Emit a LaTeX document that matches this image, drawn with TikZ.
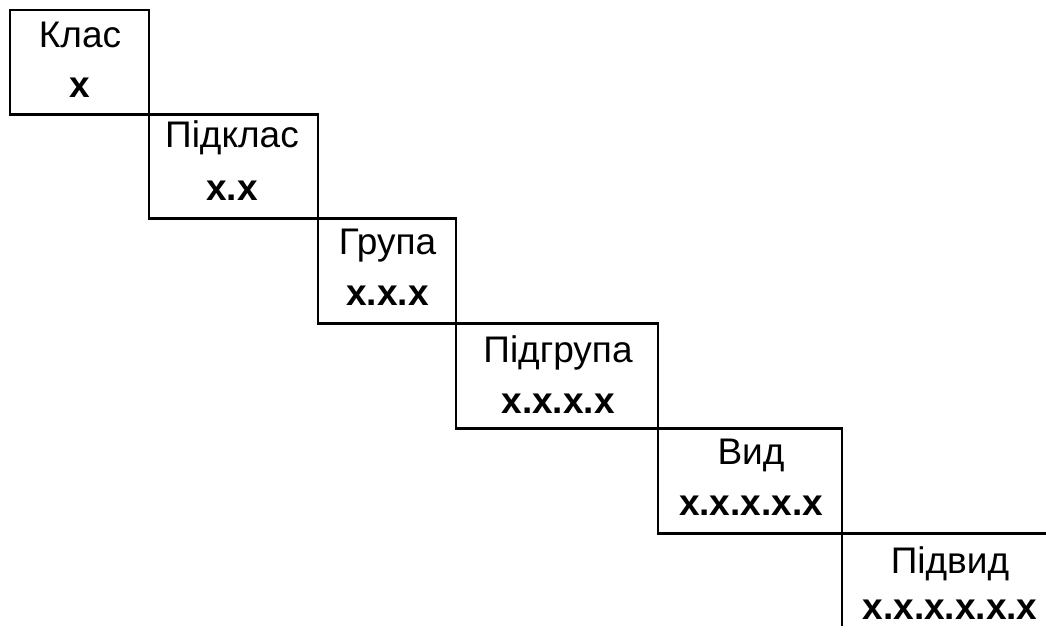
\documentclass[tikz,border=0pt]{standalone}
\usepackage{fontspec}
\setmainfont{Liberation Sans}
\begin{document}
\begin{tikzpicture}[x=1pt,y=-1pt,
  edge/.style={draw=black,line width=2.2pt,line cap=rect},
  titletext/.style={anchor=base,inner sep=0pt,font=\fontsize{37}{44}\selectfont},
  codetext/.style={anchor=base,inner sep=0pt,font=\fontsize{37}{44}\selectfont\bfseries}]
\useasboundingbox (0,0) rectangle (1046,635);
% grid values
\def\XA{10}\def\XB{149}\def\XC{318}\def\XD{456}\def\XE{658}\def\XF{842}\def\XG{1045}
\def\YA{10}\def\YB{114.5}\def\YC{218.5}\def\YD{323.5}\def\YE{428.5}\def\YF{533.5}\def\YG{625}
% horizontal edges
\draw[edge] (\XA,\YA) -- (\XB,\YA);
\draw[edge] (\XA,\YB) -- (\XC,\YB);
\draw[edge] (\XB,\YC) -- (\XD,\YC);
\draw[edge] (\XC,\YD) -- (\XE,\YD);
\draw[edge] (\XD,\YE) -- (\XF,\YE);
\draw[edge] (\XE,\YF) -- (\XG,\YF);
% vertical edges
\draw[edge] (\XA,\YA) -- (\XA,\YB);
\draw[edge] (\XB,\YA) -- (\XB,\YC);
\draw[edge] (\XC,\YB) -- (\XC,\YD);
\draw[edge] (\XD,\YC) -- (\XD,\YE);
\draw[edge] (\XE,\YD) -- (\XE,\YF);
\draw[edge] (\XF,\YE) -- (\XF,\YG);
% texts
\node[titletext] (t1) at (80,47) {Клас};
\node[codetext]  (c1) at (80,97) {x};
\node[titletext] (t2) at (232,147) {Підклас};
\node[codetext]  (c2) at (232,200) {x.x};
\node[titletext] (t3) at (387.5,254) {Група};
\node[codetext]  (c3) at (387.5,305) {x.x.x};
\node[titletext] (t4) at (558,362) {Підгрупа};
\node[codetext]  (c4) at (558,413) {x.x.x.x};
\node[titletext] (t5) at (751,464) {Вид};
\node[codetext]  (c5) at (751,515) {x.x.x.x.x};
\node[titletext] (t6) at (950,573) {Підвид};
\node[codetext]  (c6) at (950,619) {x.x.x.x.x.x};
\end{tikzpicture}
\end{document}
